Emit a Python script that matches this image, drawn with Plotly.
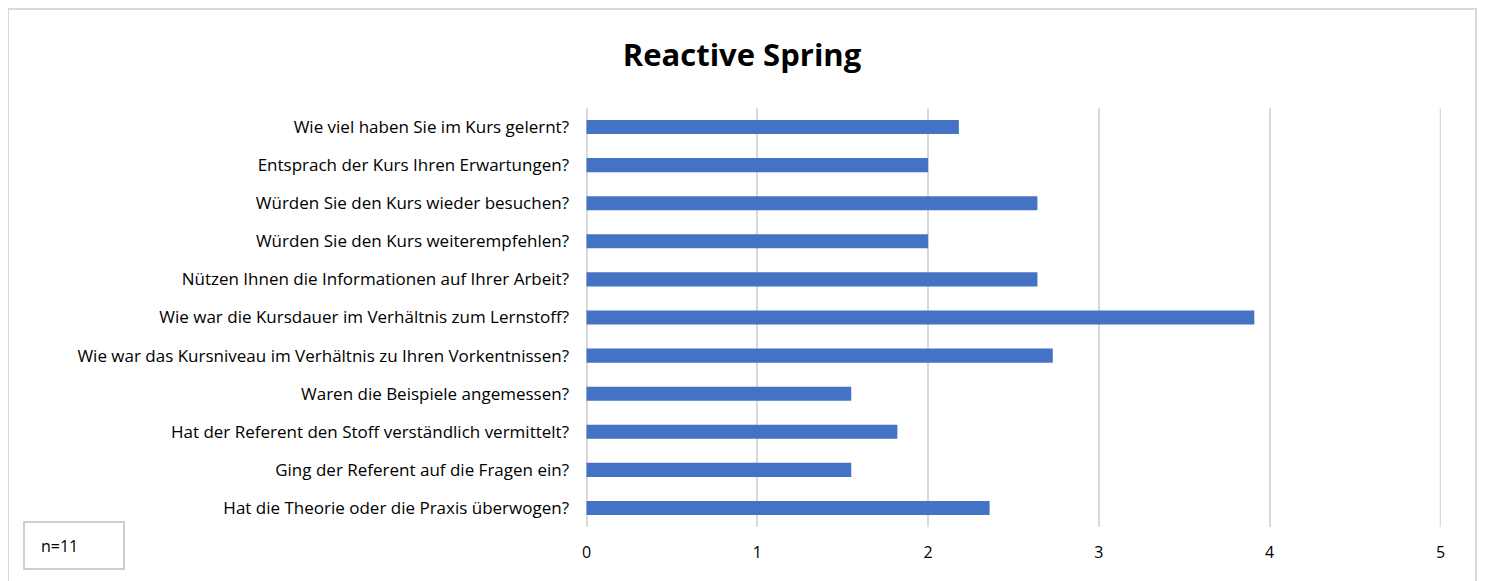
import plotly.graph_objects as go

questions = [
    "Wie viel haben Sie im Kurs gelernt?",
    "Entsprach der Kurs Ihren Erwartungen?",
    "Würden Sie den Kurs wieder besuchen?",
    "Würden Sie den Kurs weiterempfehlen?",
    "Nützen Ihnen die Informationen auf Ihrer Arbeit?",
    "Wie war die Kursdauer im Verhältnis zum Lernstoff?",
    "Wie war das Kursniveau im Verhältnis zu Ihren Vorkentnissen?",
    "Waren die Beispiele angemessen?",
    "Hat der Referent den Stoff verständlich vermittelt?",
    "Ging der Referent auf die Fragen ein?",
    "Hat die Theorie oder die Praxis überwogen?",
]
scores = [2.18, 2.0, 2.64, 2.0, 2.64, 3.91, 2.73, 1.55, 1.82, 1.55, 2.36]
x_ticks = [0, 1, 2, 3, 4, 5]
title_text = "Reactive Spring"
note_text = "n=11"

OFF = 8  # browser body margin
PAGE_W, PAGE_H = 1489, 581
W, H = PAGE_W - OFF, PAGE_H - OFF
# target plot area in page pixels
PX0, PX1, PY0, PY1 = 586, 1441, 108, 527
L = PX0 - OFF
R = W - (PX1 - OFF)
T = PY0 - OFF
B = H - (PY1 - OFF)
pw = PX1 - PX0
ph = PY1 - PY0

def px_x(v):
    return (v - PX0) / pw

def px_y(v):
    return (PY1 - v) / ph

GRID = "#d9d9d9"

fig = go.Figure(go.Bar(
    x=scores,
    y=questions,
    orientation="h",
    marker=dict(color="#4472C4", line=dict(width=0)),
))

fig.update_layout(
    width=W, height=H,
    margin=dict(l=L, r=R, t=T, b=B),
    paper_bgcolor="white",
    plot_bgcolor="white",
    bargap=0.63,
    showlegend=False,
    font=dict(family="Open Sans, Liberation Sans, sans-serif", size=17, color="#000000"),
    title=dict(text="<b>" + title_text + "</b>", x=(742 - OFF) / W, xanchor="center",
               y=1 - (55 - OFF) / H, yanchor="middle",
               font=dict(size=31, color="#000000")),
    xaxis=dict(range=[-0.003, 5.003], tickvals=x_ticks, showgrid=True, gridcolor=GRID,
               gridwidth=1.5, zeroline=True, zerolinecolor=GRID, zerolinewidth=1.5,
               showline=False, ticks="",
               tickfont=dict(size=16), ticklabelstandoff=14, fixedrange=True),
    yaxis=dict(autorange="reversed", showgrid=False, zeroline=False, showline=False,
               ticks="", ticklabelstandoff=16, tickfont=dict(size=17), fixedrange=True),
    shapes=[
        dict(type="rect", xref="paper", yref="paper",
             x0=px_x(8), x1=px_x(1476), y0=px_y(600), y1=px_y(9),
             line=dict(color=GRID, width=2), fillcolor="rgba(0,0,0,0)", layer="below"),
        dict(type="line", xref="x", yref="paper",
             x0=x_ticks[-1], x1=x_ticks[-1], y0=0, y1=1,
             line=dict(color=GRID, width=1.5), layer="below"),
        dict(type="rect", xref="paper", yref="paper",
             x0=px_x(24), x1=px_x(124), y0=px_y(569), y1=px_y(522),
             line=dict(color="#bfbfbf", width=1.5), fillcolor="white"),
    ],
    annotations=[
        dict(text=note_text, xref="paper", yref="paper", x=px_x(39), y=px_y(546),
             xanchor="left", yanchor="middle", showarrow=False,
             font=dict(size=16, color="#000000")),
    ],
)

fig.write_html("out.html")
